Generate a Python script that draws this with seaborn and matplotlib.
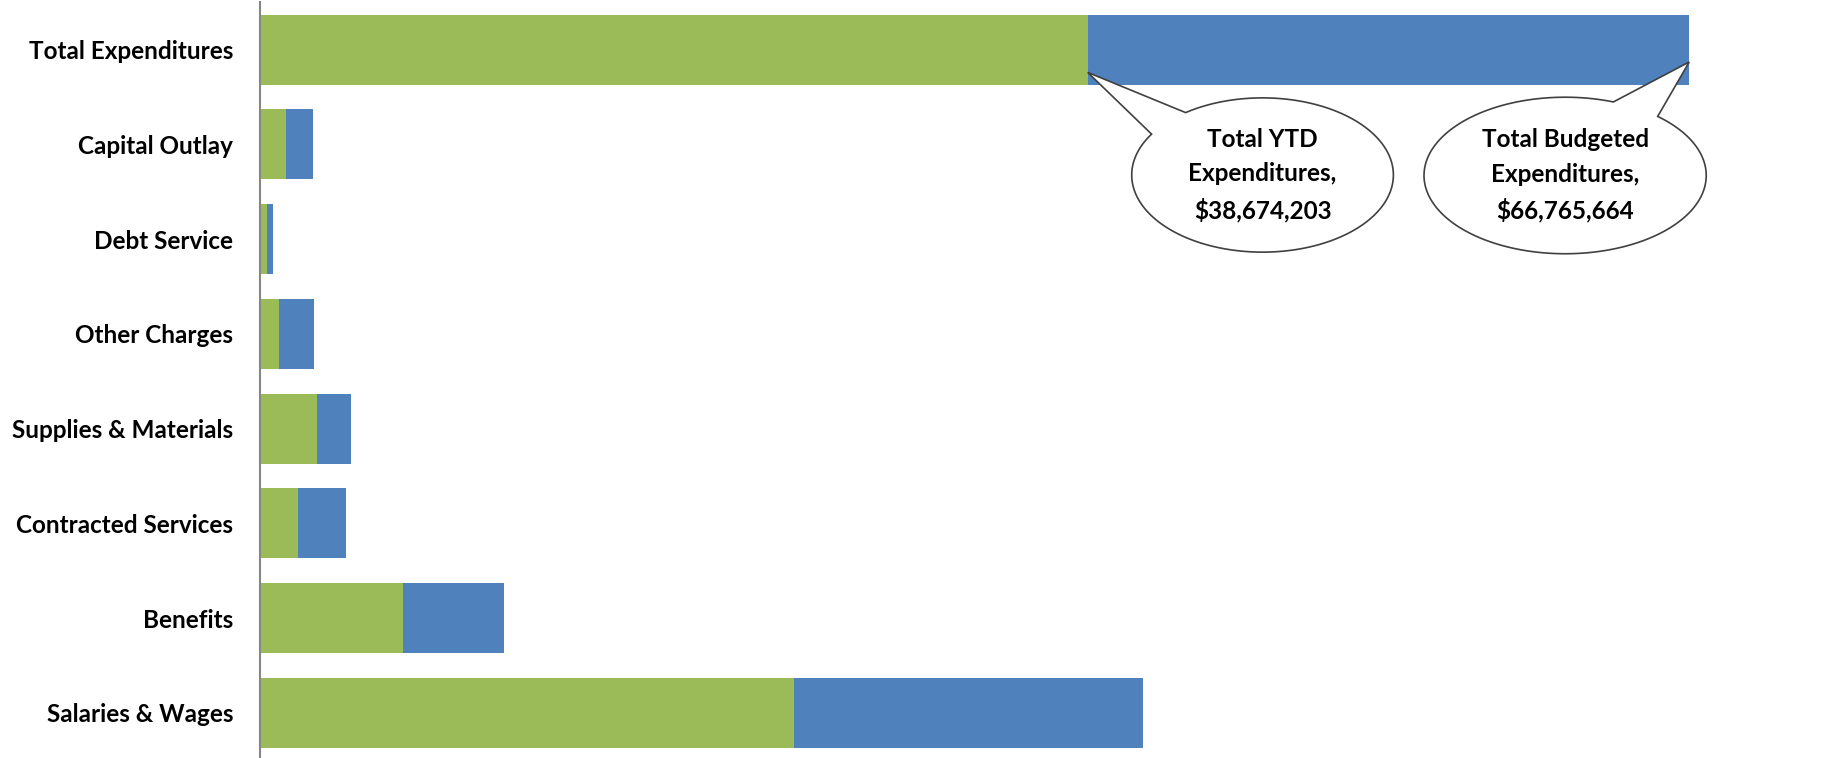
import numpy as np
import pandas as pd
import matplotlib
matplotlib.use("Agg")
import matplotlib.pyplot as plt
from matplotlib.patches import Polygon
import seaborn as sns

# Data (values in millions of dollars)
categories = ["Total Expenditures", "Capital Outlay", "Debt Service", "Other Charges",
              "Supplies & Materials", "Contracted Services", "Benefits", "Salaries & Wages"]
ytd_total = 38674203
budget_total = 66765664
ytd_values = [ytd_total / 1e6, 1.23, 0.34, 0.91, 2.68, 1.79, 6.72, 24.97]
budget_values = [budget_total / 1e6, 2.49, 0.63, 2.55, 4.29, 4.04, 11.42, 41.27]

df = pd.DataFrame({"Category": categories, "YTD": ytd_values, "Budget": budget_values})

GREEN = "#9BBB59"
BLUE = "#4F81BD"
FONT = ["Lato", "DejaVu Sans"]
FSIZE = 17.5

sns.set_style("white")
plt.rcParams["font.family"] = FONT

fig = plt.figure(figsize=(18.33, 7.58), dpi=100)
ax = fig.add_axes([0.1416, -0.003, 0.8584, 1.0])

# budget bars behind, YTD bars on top
sns.barplot(data=df, x="Budget", y="Category", order=categories, color=BLUE,
            width=0.74, saturation=1, ax=ax, orient="h", linewidth=0)
sns.barplot(data=df, x="YTD", y="Category", order=categories, color=GREEN,
            width=0.74, saturation=1, ax=ax, orient="h", linewidth=0)

ax.set_xlim(0, 73.48)
ax.set_ylim(7.5, -0.5)
ax.set_xlabel("")
ax.set_ylabel("")
ax.set_xticks([])
for s in ["top", "right", "bottom"]:
    ax.spines[s].set_visible(False)
ax.spines["left"].set_color("#868686")
ax.spines["left"].set_linewidth(1.5)
ax.tick_params(axis="y", length=0, pad=19)
for lab in ax.get_yticklabels():
    lab.set_fontweight("bold")
    lab.set_fontsize(FSIZE)
    lab.set_color("black")


# speech-bubble callout: ellipse with a tail pointing at (tip_x, tip_y)
def callout(cx, cy, rx, ry, t_start, t_end, tip_x, tip_y, text):
    t = np.radians(np.linspace(t_start, t_end, 200))
    pts = np.column_stack([cx + rx * np.cos(t), cy + ry * np.sin(t)])
    pts = np.vstack([pts, [tip_x, tip_y]])
    poly = Polygon(pts, closed=True, facecolor="white", edgecolor="#404040",
                   linewidth=1.2, zorder=5, clip_on=False)
    ax.add_patch(poly)
    ax.text(cx, cy, text, ha="center", va="center", fontsize=FSIZE, fontweight="bold",
            color="black", linespacing=1.6, zorder=6, family=FONT)


callout(46.84, 1.323, 6.11, 0.814, 234, 212 + 360, ytd_total / 1e6, 0.24,
        f"Total YTD\nExpenditures,\n${ytd_total:,}")
callout(60.97, 1.328, 6.59, 0.826, 311, 290 + 360, budget_total / 1e6, 0.13,
        f"Total Budgeted\nExpenditures,\n${budget_total:,}")

fig.savefig("out.png", dpi=100)
